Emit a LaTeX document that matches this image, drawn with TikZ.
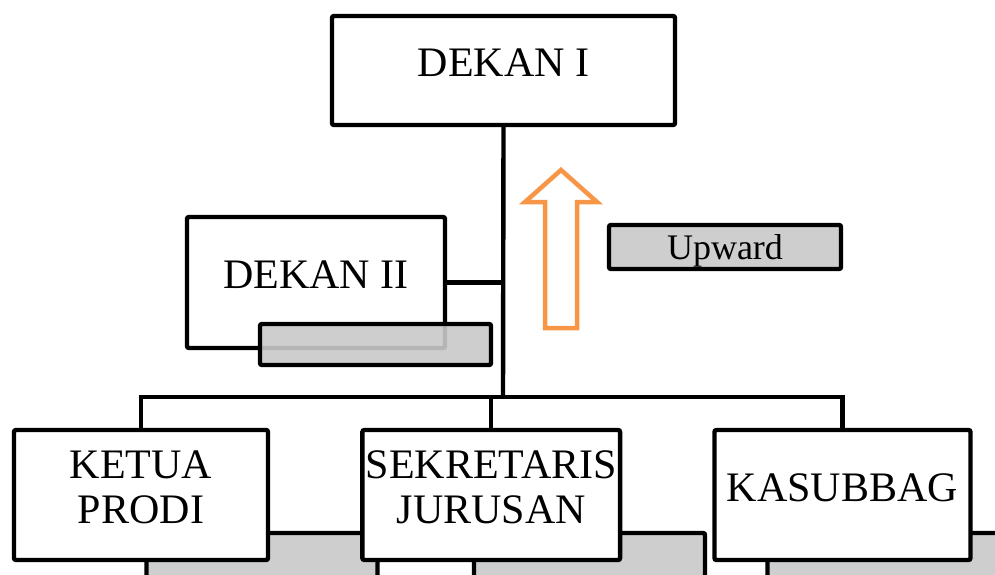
\documentclass[tikz,border=0pt]{standalone}
\usepackage{fontspec}
\setmainfont{Liberation Serif}
\usetikzlibrary{positioning}
\definecolor{uporange}{HTML}{F79646}

\begin{document}
\begin{tikzpicture}[x=1pt, y=-1pt,
            line width=4.4pt,
            box/.style = {draw,fill=white,rounded corners=2pt,align=center,
                font=\fontsize{42}{45}\selectfont,
                text height=28pt,text depth=16pt},
            twoline/.style = {text height=73pt,text depth=16pt},
            greybar/.style = {draw,rounded corners=2pt,fill=black!21,
                fill opacity=0.9,text opacity=1,
                minimum width=231pt,minimum height=41pt},
            lowbar/.style = {greybar,minimum height=60pt},
            uparrow/.style = {draw=uporange,line width=4.5pt}]
            \useasboundingbox (0,0) rectangle (995,575);
            % bars behind the lower row
            \node[lowbar] (barK) at (262,563) {};
            \node[lowbar] (barS) at (589.5,563) {};
            \node[lowbar] (barB) at (883,563) {};
            \node[box,minimum width=343pt,minimum height=109pt] (dekan1) at (503.5,70.5) {DEKAN I};
            \node[box,minimum width=258pt,minimum height=131pt] (dekan2) at (316,282.5) {DEKAN II};
            \node[greybar] (bar2) at (375.5,344.5) {};
            \node[greybar,minimum width=232pt,minimum height=44pt,
                font=\fontsize{36}{40}\selectfont,
                text height=24pt,text depth=0pt] (upward) at (725,247) {Upward};
            \node[box,twoline,minimum width=254pt,minimum height=130pt] (ketua) at (141,495) {KETUA\\PRODI};
            \node[box,twoline,minimum width=256pt,minimum height=130pt,right=90pt of ketua] (sekretaris) {SEKRETARIS\\JURUSAN};
            \node[box,minimum width=256pt,minimum height=130pt,right=90pt of sekretaris] (kasubbag) {KASUBBAG};
            \coordinate (hub) at (503,397);
            \draw (dekan1.south) -- (hub);
            \draw (dekan2.east) -- (dekan2.east -| hub);
            \draw (ketua.north) |- (hub) -| (kasubbag.north);
            \draw (sekretaris.north) -- (sekretaris.north |- hub);
            % upward arrow
            \draw[uparrow] (545,328) -- (545,202) -- (525,202) -- (561,170)
                -- (597,202) -- (577,202) -- (577,328) -- cycle;
        \end{tikzpicture}
\end{document}
